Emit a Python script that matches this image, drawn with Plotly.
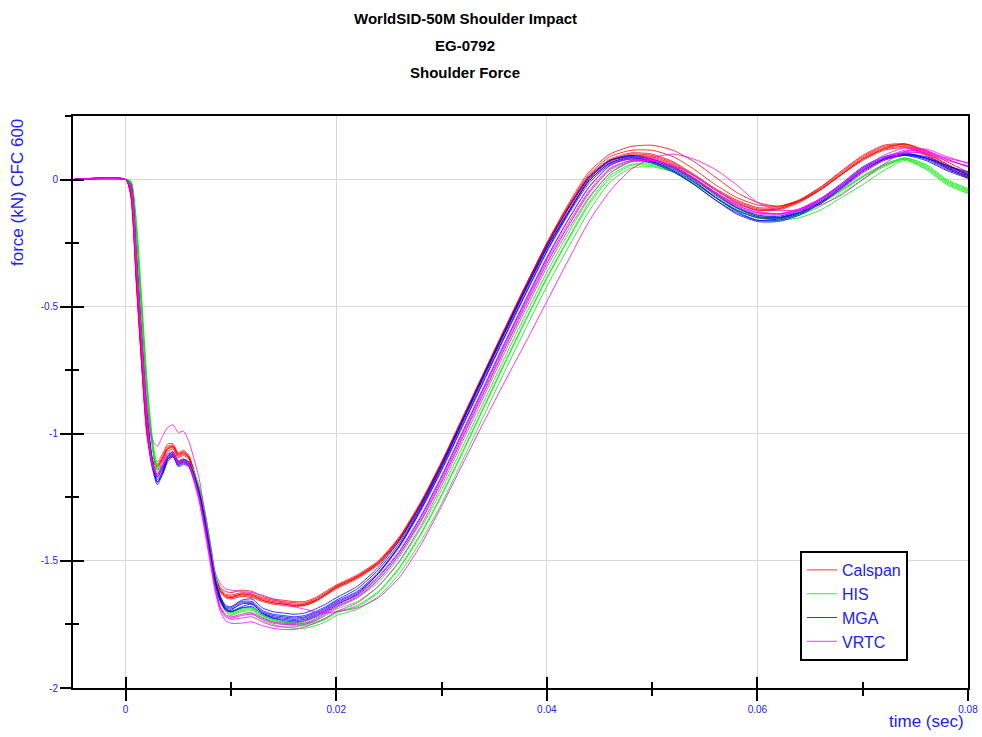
import plotly.graph_objects as go

# ---------------- data ----------------
TIME = [-0.005, 0.0, 0.0005, 0.001, 0.0015, 0.002, 0.0025, 0.003, 0.0035, 0.004, 0.0045,
        0.005, 0.0055, 0.006, 0.0065, 0.007, 0.0075, 0.008, 0.0085, 0.009, 0.0095, 0.010,
        0.011, 0.012, 0.013, 0.014, 0.015, 0.016, 0.017, 0.018, 0.019, 0.020,
        0.022, 0.024, 0.026, 0.028, 0.030, 0.032, 0.034, 0.036, 0.038, 0.040,
        0.042, 0.044, 0.046, 0.048, 0.050, 0.052, 0.054, 0.056, 0.058, 0.060,
        0.062, 0.064, 0.066, 0.068, 0.070, 0.072, 0.074, 0.076, 0.078, 0.080]

CALSPAN_1 = [0, 0, -0.06, -0.38, -0.70, -0.98, -1.10, -1.12, -1.09, -1.05, -1.045, -1.08, -1.07, -1.09, -1.15, -1.23, -1.34, -1.46, -1.56, -1.61, -1.63, -1.635,
             -1.625, -1.63, -1.645, -1.655, -1.66, -1.665, -1.665, -1.65, -1.625, -1.60,
             -1.56, -1.505, -1.41, -1.275, -1.115, -0.94, -0.765, -0.59, -0.42, -0.255, -0.11, 0.015, 0.08, 0.105,
             0.10, 0.07, 0.02, -0.035, -0.08, -0.11, -0.11, -0.08, -0.03, 0.03, 0.09, 0.13, 0.135, 0.10, 0.05, 0.01]
CALSPAN_2 = [0, 0, -0.07, -0.40, -0.72, -1.00, -1.11, -1.13, -1.10, -1.06, -1.05, -1.085, -1.075, -1.095, -1.155, -1.235, -1.345, -1.465, -1.565, -1.62, -1.64, -1.645,
             -1.635, -1.64, -1.655, -1.665, -1.67, -1.675, -1.675, -1.66, -1.635, -1.605,
             -1.565, -1.51, -1.415, -1.28, -1.12, -0.945, -0.765, -0.59, -0.415, -0.25, -0.10, 0.03, 0.10, 0.13,
             0.135, 0.115, 0.07, 0.01, -0.05, -0.09, -0.105, -0.085, -0.04, 0.02, 0.08, 0.12, 0.13, 0.10, 0.055, 0.02]
CALSPAN_3 = [0, 0, -0.05, -0.36, -0.68, -0.96, -1.09, -1.11, -1.08, -1.04, -1.04, -1.075, -1.065, -1.085, -1.145, -1.225, -1.335, -1.455, -1.555, -1.605, -1.62, -1.625,
             -1.615, -1.62, -1.64, -1.65, -1.655, -1.66, -1.66, -1.645, -1.62, -1.595,
             -1.555, -1.50, -1.405, -1.27, -1.11, -0.935, -0.76, -0.585, -0.415, -0.255, -0.115, 0.005, 0.07, 0.095,
             0.09, 0.06, 0.015, -0.04, -0.085, -0.115, -0.115, -0.085, -0.035, 0.025, 0.085, 0.125, 0.14, 0.11, 0.06, 0.02]
CALSPAN_4 = [0, 0, -0.06, -0.39, -0.71, -0.99, -1.12, -1.14, -1.11, -1.07, -1.06, -1.095, -1.085, -1.10, -1.16, -1.24, -1.35, -1.47, -1.57, -1.625, -1.645, -1.65,
             -1.64, -1.645, -1.66, -1.67, -1.675, -1.68, -1.675, -1.66, -1.635, -1.61,
             -1.57, -1.515, -1.42, -1.285, -1.125, -0.95, -0.775, -0.60, -0.43, -0.265, -0.12, 0.005, 0.075, 0.10,
             0.095, 0.065, 0.015, -0.04, -0.09, -0.12, -0.12, -0.09, -0.04, 0.02, 0.08, 0.12, 0.14, 0.115, 0.07, 0.03]
CALSPAN_5 = [0, 0, -0.05, -0.37, -0.69, -0.97, -1.10, -1.13, -1.10, -1.06, -1.055, -1.09, -1.08, -1.095, -1.155, -1.235, -1.345, -1.465, -1.565, -1.62, -1.64, -1.645,
             -1.63, -1.635, -1.655, -1.665, -1.67, -1.675, -1.67, -1.655, -1.63, -1.605,
             -1.565, -1.51, -1.415, -1.28, -1.12, -0.945, -0.77, -0.595, -0.425, -0.26, -0.115, 0.01, 0.075, 0.095,
             0.085, 0.055, 0.005, -0.05, -0.095, -0.12, -0.115, -0.085, -0.04, 0.02, 0.075, 0.115, 0.125, 0.095, 0.045, 0.005]
CALSPAN_6 = [0, 0, -0.065, -0.39, -0.71, -0.99, -1.105, -1.125, -1.095, -1.055, -1.05, -1.08, -1.075, -1.09, -1.15, -1.23, -1.34, -1.46, -1.56, -1.615, -1.635, -1.64,
             -1.63, -1.635, -1.65, -1.66, -1.665, -1.67, -1.67, -1.655, -1.63, -1.60,
             -1.56, -1.505, -1.41, -1.275, -1.115, -0.94, -0.765, -0.59, -0.42, -0.25, -0.105, 0.02, 0.09, 0.115,
             0.115, 0.09, 0.04, -0.02, -0.07, -0.10, -0.105, -0.08, -0.03, 0.035, 0.095, 0.135, 0.14, 0.105, 0.06, 0.015]

HIS_1 = [0, 0, -0.01, -0.18, -0.48, -0.80, -1.02, -1.13, -1.13, -1.09, -1.08, -1.11, -1.10, -1.11, -1.15, -1.21, -1.30, -1.42, -1.55, -1.64, -1.69, -1.705,
         -1.69, -1.69, -1.72, -1.735, -1.745, -1.75, -1.75, -1.74, -1.725, -1.70,
         -1.68, -1.625, -1.53, -1.40, -1.245, -1.075, -0.90, -0.725, -0.555, -0.39, -0.24, -0.10, 0.005, 0.055,
         0.055, 0.03, -0.015, -0.07, -0.12, -0.15, -0.155, -0.14, -0.105, -0.055, 0.0, 0.05, 0.08, 0.05, -0.01, -0.045]
HIS_2 = [0, 0, -0.015, -0.22, -0.53, -0.84, -1.05, -1.15, -1.14, -1.09, -1.075, -1.105, -1.10, -1.11, -1.155, -1.22, -1.315, -1.435, -1.56, -1.645, -1.69, -1.70,
         -1.685, -1.685, -1.715, -1.73, -1.74, -1.745, -1.74, -1.725, -1.705, -1.68,
         -1.645, -1.585, -1.485, -1.35, -1.19, -1.015, -0.84, -0.665, -0.495, -0.33, -0.185, -0.05, 0.035, 0.07,
         0.065, 0.035, -0.015, -0.07, -0.12, -0.15, -0.155, -0.135, -0.095, -0.04, 0.015, 0.06, 0.085, 0.06, 0.0, -0.035]
HIS_3 = [0, 0, -0.005, -0.15, -0.45, -0.77, -1.00, -1.12, -1.13, -1.095, -1.085, -1.115, -1.11, -1.12, -1.16, -1.22, -1.31, -1.43, -1.56, -1.65, -1.70, -1.715,
         -1.70, -1.705, -1.735, -1.75, -1.76, -1.765, -1.765, -1.755, -1.74, -1.715,
         -1.69, -1.64, -1.55, -1.425, -1.275, -1.105, -0.93, -0.755, -0.585, -0.42, -0.27, -0.125, -0.01, 0.045,
         0.05, 0.03, -0.015, -0.07, -0.12, -0.15, -0.16, -0.15, -0.12, -0.07, -0.02, 0.035, 0.075, 0.04, -0.02, -0.055]
HIS_4 = [0, 0, -0.01, -0.20, -0.50, -0.82, -1.03, -1.14, -1.135, -1.09, -1.08, -1.11, -1.105, -1.115, -1.155, -1.215, -1.305, -1.425, -1.555, -1.645, -1.695, -1.71,
         -1.695, -1.695, -1.725, -1.74, -1.75, -1.755, -1.755, -1.745, -1.73, -1.705,
         -1.675, -1.62, -1.525, -1.395, -1.24, -1.07, -0.895, -0.72, -0.55, -0.385, -0.235, -0.09, 0.015, 0.06,
         0.06, 0.035, -0.01, -0.065, -0.115, -0.145, -0.15, -0.13, -0.09, -0.04, 0.01, 0.055, 0.085, 0.055, -0.005, -0.04]
HIS_5 = [0, 0, -0.01, -0.19, -0.49, -0.81, -1.03, -1.14, -1.13, -1.085, -1.075, -1.105, -1.10, -1.11, -1.15, -1.21, -1.30, -1.42, -1.55, -1.64, -1.685, -1.70,
         -1.685, -1.685, -1.715, -1.73, -1.74, -1.745, -1.745, -1.735, -1.715, -1.69,
         -1.66, -1.60, -1.505, -1.375, -1.22, -1.05, -0.875, -0.70, -0.53, -0.365, -0.215, -0.075, 0.025, 0.07,
         0.07, 0.045, 0.0, -0.055, -0.105, -0.14, -0.15, -0.135, -0.095, -0.045, 0.01, 0.055, 0.08, 0.045, -0.015, -0.05]

MGA_1 = [0, 0, -0.03, -0.30, -0.62, -0.92, -1.10, -1.18, -1.15, -1.10, -1.08, -1.12, -1.11, -1.12, -1.17, -1.24, -1.34, -1.46, -1.58, -1.65, -1.685, -1.69,
         -1.67, -1.665, -1.70, -1.715, -1.72, -1.725, -1.72, -1.705, -1.685, -1.66,
         -1.62, -1.545, -1.44, -1.30, -1.14, -0.965, -0.79, -0.615, -0.445, -0.28, -0.135, -0.005, 0.065, 0.085,
         0.07, 0.04, -0.01, -0.07, -0.12, -0.15, -0.15, -0.125, -0.08, -0.02, 0.045, 0.085, 0.10, 0.08, 0.04, 0.01]
MGA_2 = [0, 0, -0.04, -0.32, -0.64, -0.94, -1.12, -1.20, -1.16, -1.10, -1.09, -1.13, -1.12, -1.13, -1.18, -1.25, -1.35, -1.47, -1.59, -1.66, -1.69, -1.70,
         -1.68, -1.67, -1.705, -1.725, -1.735, -1.74, -1.735, -1.72, -1.70, -1.675,
         -1.63, -1.55, -1.44, -1.295, -1.13, -0.95, -0.77, -0.595, -0.425, -0.26, -0.115, 0.01, 0.075, 0.09,
         0.07, 0.035, -0.02, -0.08, -0.13, -0.16, -0.155, -0.13, -0.085, -0.025, 0.04, 0.08, 0.095, 0.075, 0.035, 0.005]
MGA_3 = [0, 0, -0.02, -0.28, -0.60, -0.90, -1.09, -1.17, -1.14, -1.09, -1.07, -1.11, -1.10, -1.11, -1.16, -1.23, -1.33, -1.45, -1.57, -1.64, -1.675, -1.68,
         -1.655, -1.65, -1.685, -1.70, -1.705, -1.71, -1.705, -1.69, -1.67, -1.645,
         -1.60, -1.525, -1.42, -1.28, -1.12, -0.945, -0.77, -0.60, -0.43, -0.27, -0.13, 0.0, 0.075, 0.095,
         0.08, 0.05, 0.0, -0.06, -0.11, -0.14, -0.145, -0.12, -0.075, -0.015, 0.05, 0.09, 0.105, 0.085, 0.045, 0.015]
MGA_4 = [0, 0, -0.03, -0.29, -0.61, -0.91, -1.10, -1.19, -1.16, -1.11, -1.09, -1.12, -1.11, -1.125, -1.18, -1.25, -1.35, -1.47, -1.59, -1.66, -1.695, -1.70,
         -1.685, -1.68, -1.71, -1.725, -1.73, -1.735, -1.73, -1.715, -1.695, -1.67,
         -1.635, -1.565, -1.465, -1.33, -1.17, -0.995, -0.82, -0.645, -0.475, -0.31, -0.16, -0.03, 0.055, 0.085,
         0.075, 0.045, -0.005, -0.07, -0.125, -0.16, -0.16, -0.135, -0.09, -0.03, 0.035, 0.08, 0.10, 0.085, 0.05, 0.02]
MGA_5 = [0, 0, -0.03, -0.31, -0.63, -0.93, -1.11, -1.17, -1.13, -1.09, -1.08, -1.115, -1.105, -1.115, -1.165, -1.235, -1.335, -1.455, -1.575, -1.645, -1.68, -1.685,
         -1.66, -1.66, -1.695, -1.71, -1.715, -1.72, -1.715, -1.70, -1.68, -1.655,
         -1.61, -1.535, -1.43, -1.29, -1.13, -0.955, -0.78, -0.605, -0.435, -0.27, -0.13, -0.005, 0.065, 0.09,
         0.08, 0.05, 0.005, -0.055, -0.11, -0.145, -0.15, -0.13, -0.09, -0.03, 0.035, 0.08, 0.10, 0.09, 0.055, 0.025]
MGA_6 = [0, 0, -0.035, -0.33, -0.65, -0.95, -1.13, -1.19, -1.15, -1.10, -1.085, -1.125, -1.115, -1.125, -1.175, -1.245, -1.345, -1.465, -1.585, -1.655, -1.69, -1.695,
         -1.665, -1.67, -1.705, -1.72, -1.725, -1.73, -1.725, -1.71, -1.69, -1.665,
         -1.625, -1.55, -1.445, -1.305, -1.145, -0.97, -0.795, -0.62, -0.45, -0.285, -0.14, -0.015, 0.06, 0.08,
         0.065, 0.03, -0.02, -0.08, -0.135, -0.165, -0.165, -0.14, -0.095, -0.035, 0.03, 0.075, 0.095, 0.085, 0.055, 0.03]

VRTC_1 = [0, 0, -0.02, -0.28, -0.60, -0.88, -1.02, -1.05, -1.01, -0.975, -0.965, -0.995, -0.99, -1.03, -1.10, -1.18, -1.31, -1.43, -1.545, -1.59, -1.61, -1.615,
          -1.62, -1.625, -1.635, -1.65, -1.665, -1.68, -1.69, -1.70, -1.705, -1.70,
          -1.685, -1.645, -1.565, -1.44, -1.285, -1.12, -0.955, -0.795, -0.64, -0.48, -0.32, -0.165, -0.045, 0.04,
          0.085, 0.10, 0.08, 0.04, -0.02, -0.09, -0.12, -0.12, -0.10, -0.06, 0.0, 0.06, 0.11, 0.12, 0.09, 0.065]
VRTC_2 = [0, 0, -0.04, -0.33, -0.65, -0.95, -1.12, -1.17, -1.13, -1.09, -1.08, -1.115, -1.11, -1.125, -1.18, -1.26, -1.37, -1.49, -1.61, -1.69, -1.72, -1.73,
          -1.725, -1.72, -1.74, -1.755, -1.76, -1.76, -1.75, -1.735, -1.71, -1.685,
          -1.645, -1.575, -1.475, -1.34, -1.18, -1.005, -0.83, -0.655, -0.485, -0.32, -0.175, -0.045, 0.045, 0.075,
          0.075, 0.05, 0.005, -0.05, -0.10, -0.13, -0.135, -0.115, -0.075, -0.02, 0.04, 0.085, 0.11, 0.10, 0.075, 0.055]
VRTC_3 = [0, 0, -0.035, -0.32, -0.64, -0.94, -1.11, -1.16, -1.12, -1.08, -1.07, -1.105, -1.10, -1.115, -1.17, -1.25, -1.36, -1.48, -1.60, -1.68, -1.71, -1.72,
          -1.71, -1.705, -1.725, -1.74, -1.745, -1.745, -1.735, -1.72, -1.695, -1.67,
          -1.63, -1.56, -1.46, -1.325, -1.165, -0.99, -0.815, -0.64, -0.47, -0.305, -0.16, -0.03, 0.055, 0.085,
          0.08, 0.05, 0.0, -0.055, -0.105, -0.135, -0.14, -0.12, -0.08, -0.025, 0.035, 0.085, 0.115, 0.11, 0.085, 0.065]
VRTC_4 = [0, 0, -0.03, -0.30, -0.62, -0.92, -1.10, -1.16, -1.13, -1.09, -1.085, -1.12, -1.115, -1.13, -1.19, -1.27, -1.38, -1.50, -1.62, -1.70, -1.735, -1.745,
          -1.745, -1.74, -1.755, -1.765, -1.77, -1.77, -1.76, -1.745, -1.725, -1.70,
          -1.665, -1.60, -1.50, -1.365, -1.205, -1.03, -0.855, -0.68, -0.51, -0.345, -0.20, -0.07, 0.025, 0.07,
          0.075, 0.055, 0.015, -0.04, -0.09, -0.125, -0.135, -0.12, -0.085, -0.035, 0.025, 0.075, 0.105, 0.105, 0.08, 0.05]
VRTC_5 = [0, 0, -0.04, -0.34, -0.66, -0.96, -1.12, -1.16, -1.12, -1.08, -1.075, -1.11, -1.105, -1.12, -1.175, -1.255, -1.365, -1.485, -1.605, -1.685, -1.715, -1.725,
          -1.715, -1.71, -1.73, -1.745, -1.75, -1.75, -1.745, -1.73, -1.705, -1.68,
          -1.64, -1.575, -1.475, -1.345, -1.19, -1.015, -0.84, -0.665, -0.495, -0.33, -0.185, -0.055, 0.04, 0.075,
          0.075, 0.05, 0.005, -0.05, -0.10, -0.13, -0.135, -0.115, -0.075, -0.02, 0.045, 0.095, 0.125, 0.115, 0.08, 0.05]

GROUPS = [
    ("Calspan", "#ff0000", [CALSPAN_1, CALSPAN_2, CALSPAN_3, CALSPAN_4, CALSPAN_5, CALSPAN_6]),
    ("HIS", "#00ee00", [HIS_1, HIS_2, HIS_3, HIS_4, HIS_5]),
    ("MGA", "#0000ff", [MGA_1, MGA_2, MGA_3, MGA_4, MGA_5, MGA_6]),
    ("VRTC", "#ff00ff", [VRTC_1, VRTC_2, VRTC_3, VRTC_4, VRTC_5]),
]

X_RANGE = [-0.005, 0.08]
Y_RANGE = [-2.0, 0.25]
Y_TICKS = [0, -0.5, -1, -1.5, -2]
Y_TICK_TEXT = ["0", "-0.5", "-1", "-1.5", "-2"]

FONT = "Liberation Sans, Arial, sans-serif"
BLUE_TXT = "#2020ff"

fig = go.Figure()
for name, color, curves in GROUPS:
    for i, vals in enumerate(curves):
        assert len(vals) == len(TIME), (name, i, len(vals))
        fig.add_trace(go.Scatter(
            x=TIME, y=vals, mode="lines", name=name, legendgroup=name,
            showlegend=(i == 0),
            line=dict(color=color, width=1, shape="spline", smoothing=0.6),
            opacity=0.8, hoverinfo="skip",
        ))

# empty helper trace so the overlay axes (inward half of crossing ticks) are drawn
fig.add_trace(go.Scatter(x=[], y=[], xaxis="x2", yaxis="y2", showlegend=False, hoverinfo="skip"))

axis_common = dict(showline=True, linecolor="black", linewidth=2, zeroline=False, automargin=False)
fig.update_layout(
    width=982, height=737,
    margin=dict(l=73, r=14, t=116, b=49, autoexpand=False),
    paper_bgcolor="white", plot_bgcolor="white",
    font=dict(family=FONT, color=BLUE_TXT),
    xaxis=dict(range=X_RANGE, dtick=0.02, tick0=0, showgrid=True, gridcolor="#d8d8d8", gridwidth=1,
               ticks="outside", ticklen=11, tickwidth=2, tickcolor="black", mirror=True,
               tickfont=dict(size=10, color=BLUE_TXT), tickformat="~g",
               minor=dict(dtick=0.01, tick0=0, ticks="outside", ticklen=6, tickwidth=2,
                          tickcolor="black", showgrid=False),
               **axis_common),
    yaxis=dict(range=Y_RANGE, tickmode="array", tickvals=Y_TICKS, ticktext=Y_TICK_TEXT,
               showgrid=True, gridcolor="#d8d8d8", gridwidth=1,
               ticks="outside", ticklen=11, tickwidth=2, tickcolor="black", mirror=True,
               tickfont=dict(size=10, color=BLUE_TXT),
               minor=dict(dtick=0.25, tick0=0, ticks="outside", ticklen=6, tickwidth=2,
                          tickcolor="black", showgrid=False),
               **axis_common),
    xaxis2=dict(range=X_RANGE, overlaying="x", anchor="y", side="bottom", dtick=0.02, tick0=0,
                showgrid=False, zeroline=False, showline=False, showticklabels=False, automargin=False,
                ticks="inside", ticklen=11, tickwidth=2, tickcolor="black",
                minor=dict(dtick=0.01, tick0=0, ticks="inside", ticklen=6, tickwidth=2, tickcolor="black")),
    yaxis2=dict(range=Y_RANGE, overlaying="y", anchor="x", side="left", dtick=0.5, tick0=0,
                showgrid=False, zeroline=False, showline=False, showticklabels=False, automargin=False,
                ticks="inside", ticklen=11, tickwidth=2, tickcolor="black",
                minor=dict(dtick=0.25, tick0=0, ticks="inside", ticklen=6, tickwidth=2, tickcolor="black")),
    legend=dict(x=0.8123, y=0.2395, xanchor="left", yanchor="top",
                bordercolor="black", borderwidth=2, bgcolor="white",
                font=dict(family=FONT, size=16, color=BLUE_TXT),
                itemwidth=30, tracegroupgap=0),
    showlegend=True,
)

title_lines = ["WorldSID-50M Shoulder Impact", "EG-0792", "Shoulder Force"]
title_y = [1.1713, 1.1224, 1.0769]
for txt, yy in zip(title_lines, title_y):
    fig.add_annotation(text="<b>%s</b>" % txt, x=0.438, y=yy, xref="paper", yref="paper",
                       xanchor="center", yanchor="middle", showarrow=False,
                       font=dict(family=FONT, size=15, color="black"))

fig.add_annotation(text="force (kN) CFC 600", x=-0.0626, y=0.867, xref="paper", yref="paper",
                   textangle=-90, xanchor="center", yanchor="middle", showarrow=False,
                   font=dict(family=FONT, size=17, color=BLUE_TXT))
fig.add_annotation(text="time (sec)", x=0.998, y=-0.0594, xref="paper", yref="paper",
                   xanchor="right", yanchor="middle", showarrow=False,
                   font=dict(family=FONT, size=17, color=BLUE_TXT))

fig.write_html("out.html")
